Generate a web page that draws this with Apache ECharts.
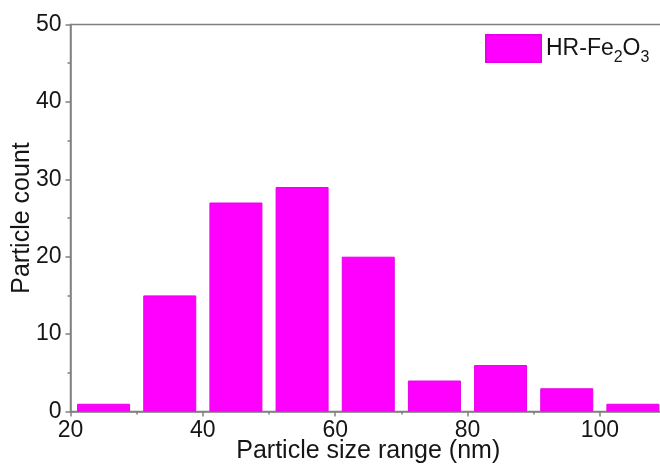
<!DOCTYPE html>
<html>
<head>
<meta charset="utf-8">
<script src="https://cdn.jsdelivr.net/npm/echarts@6/dist/echarts.min.js"></script>
<style>
  html, body { margin: 0; padding: 0; background: #fff; overflow: hidden; }
  #chart { width: 668px; height: 471px; }
</style>
</head>
<body>
<div id="chart"></div>
<script>
// Histogram of particle sizes: bin centres (nm) and counts per 10 nm bin
const binCenters = [25, 35, 45, 55, 65, 75, 85, 95, 105];
const counts = [1, 15, 27, 29, 20, 4, 6, 3, 1];
const xTicks = [20, 40, 60, 80, 100];
const yTicks = [0, 10, 20, 30, 40, 50];
const seriesName = 'HR-Fe2O3';

const FONT = '"Liberation Sans", Arial, sans-serif';
const AXIS_GRAY = '#808080';
const TEXT = '#151515';

const chart = echarts.init(document.getElementById('chart'), null, { renderer: 'canvas' });

chart.setOption({
  animation: false,
  backgroundColor: '#ffffff',
  grid: {
    left: 70.5, right: 2, top: 24.5, bottom: 59.5,
    containLabel: false, outerBoundsMode: 'none',
    show: true, borderColor: AXIS_GRAY, borderWidth: 1.5, backgroundColor: 'transparent'
  },
  legend: {
    left: 485, top: 34,
    padding: 0,
    itemWidth: 55, itemHeight: 27, itemGap: 7,
    icon: 'rect',
    data: [seriesName],
    formatter: () => '{a|HR-Fe}{s|2}{a|O}{s|3}',
    textStyle: {
      fontFamily: FONT, color: TEXT,
      rich: {
        a: { fontSize: 23, fontFamily: FONT, color: TEXT, lineHeight: 30, verticalAlign: 'middle' },
        s: { fontSize: 16, fontFamily: FONT, color: TEXT, lineHeight: 30, verticalAlign: 'bottom', padding: [0, 0, -2, 0] }
      }
    }
  },
  xAxis: {
    type: 'value',
    min: xTicks[0], max: 110, interval: 20,
    name: 'Particle size range (nm)',
    nameLocation: 'middle', nameGap: 27, nameMoveOverlap: false,
    nameTextStyle: { fontFamily: FONT, fontSize: 25, color: TEXT },
    axisLine: { show: true, onZero: false, lineStyle: { color: AXIS_GRAY, width: 1.5 } },
    axisTick: { show: true, inside: false, length: 5, lineStyle: { color: AXIS_GRAY, width: 1.5 } },
    minorTick: { show: true, splitNumber: 2, length: 3, lineStyle: { color: AXIS_GRAY, width: 1.5 } },
    splitLine: { show: false },
    axisLabel: {
      margin: 8, fontFamily: FONT, fontSize: 23, color: TEXT,
      formatter: v => (xTicks.includes(v) ? String(v) : '')
    }
  },
  yAxis: {
    type: 'value',
    min: yTicks[0], max: yTicks[yTicks.length - 1], interval: 10,
    name: 'Particle count',
    nameLocation: 'middle', nameGap: 36, nameMoveOverlap: false,
    nameTextStyle: { fontFamily: FONT, fontSize: 25, color: TEXT },
    axisLine: { show: true, lineStyle: { color: AXIS_GRAY, width: 1.5 } },
    axisTick: { show: true, inside: false, length: 5, lineStyle: { color: AXIS_GRAY, width: 1.5 } },
    minorTick: { show: true, splitNumber: 2, length: 3, lineStyle: { color: AXIS_GRAY, width: 1.5 } },
    splitLine: { show: false },
    axisLabel: { margin: 9, fontFamily: FONT, fontSize: 23, color: TEXT }
  },
  series: [{
    name: seriesName,
    type: 'bar',
    data: binCenters.map((c, i) => [c, counts[i]]),
    barWidth: 53,
    itemStyle: { color: '#ff00ff', borderColor: '#e800e8', borderWidth: 1 }
  }]
});
</script>
</body>
</html>
